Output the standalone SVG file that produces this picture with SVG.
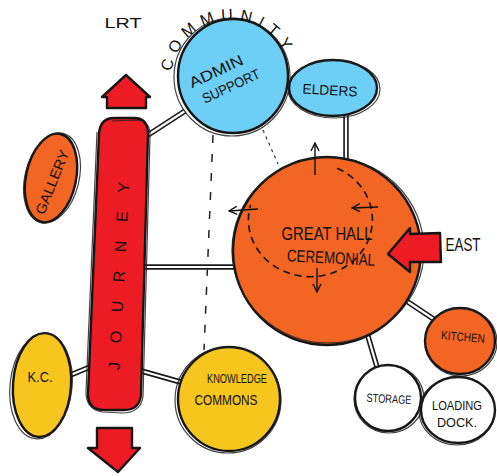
<svg xmlns="http://www.w3.org/2000/svg" width="497" height="476" viewBox="0 0 497 476">
<defs>
<style>
.t{font-family:"Liberation Sans",Arial,sans-serif;fill:#111;dominant-baseline:central;text-anchor:middle}
.ol{stroke:#151515;stroke-width:2.4}
.ol2{fill:none;stroke:#222;stroke-width:1.2;opacity:.85}
.dbo{stroke:#1a1a1a;stroke-width:5.5;fill:none}
.dbi{stroke:#fff;stroke-width:2.2;fill:none}
.red{fill:#ED1C24}
.org{fill:#F26522}
.blu{fill:#6DCFF6}
.yel{fill:#F7C61E}
.wht{fill:#fff}
.thin{stroke:#111;stroke-width:1.4;fill:none}
</style>
<marker id="ah" viewBox="0 0 10 10" refX="9" refY="5" markerWidth="10" markerHeight="10" markerUnits="userSpaceOnUse" orient="auto">
<path d="M1,1 L9,5 L1,9" fill="none" stroke="#111" stroke-width="1.4"/>
</marker>
<path id="arc" d="M 171.6 71.6 A 60 60 0 0 1 285.4 54.6"/>
</defs>
<rect width="497" height="476" fill="#fff"/>

<g id="connectors">
<line class="dbo" x1="148" y1="135" x2="185" y2="111"/><line class="dbi" x1="148" y1="135" x2="185" y2="111"/>
<line class="dbo" x1="145" y1="267" x2="238" y2="267"/><line class="dbi" x1="145" y1="267" x2="238" y2="267"/>
<line class="dbo" x1="346" y1="113" x2="346" y2="162"/><line class="dbi" x1="346" y1="113" x2="346" y2="162"/>
<line class="dbo" x1="90" y1="367" x2="68" y2="376"/><line class="dbi" x1="90" y1="367" x2="68" y2="376"/>
<line class="dbo" x1="138" y1="370" x2="184" y2="383"/><line class="dbi" x1="138" y1="370" x2="184" y2="383"/>
<line class="dbo" x1="405" y1="300" x2="435" y2="320"/><line class="dbi" x1="405" y1="300" x2="435" y2="320"/>
<line class="dbo" x1="367" y1="333" x2="377" y2="367"/><line class="dbi" x1="367" y1="333" x2="377" y2="367"/>
<path d="M213 135 L204 350" stroke="#222" stroke-width="1.5" stroke-dasharray="8 11" fill="none"/>
<path d="M263 130 L278 164" stroke="#333" stroke-width="1.2" stroke-dasharray="3 4" fill="none"/>
</g>

<g id="lrt">
<text class="t" x="123" y="23" font-size="14" textLength="37" lengthAdjust="spacingAndGlyphs">LRT</text>
</g>

<g id="journey">
<polygon class="red ol" points="126,75 150,97 146,97 146,108 107,108 107,97 102,97" stroke-linejoin="round"/>
<path class="red ol" d="M114,118 L134,118 Q148,118 148,134 L141,394 Q140,410 124,410 L104,410 Q88,410 88,394 L99,134 Q100,118 114,118 Z"/>
<path class="ol2" d="M112,121 L136,120 Q151,121 150,136 L143,396 Q141,413 122,413 L102,412 Q86,409 86,392 L97,132"/>
<text class="t" x="119" y="276" font-size="16" textLength="188" lengthAdjust="spacing" transform="rotate(-87 119 276)">JOURNEY</text>
<polygon class="red ol" points="97,428 132,428 132,448 140,448 118,472 88,448 97,448" stroke-linejoin="round"/>
</g>

<g id="gallery">
<ellipse class="org ol" cx="51" cy="178" rx="25" ry="45" transform="rotate(12 51 178)"/>
<ellipse class="ol2" cx="52" cy="178" rx="27" ry="46" transform="rotate(14 52 178)"/>
<text class="t" x="52" y="182" font-size="14" textLength="68" lengthAdjust="spacingAndGlyphs" transform="rotate(-68 52 182)">GALLERY</text>
</g>

<g id="admin-support">
<ellipse class="blu ol" cx="233" cy="76" rx="55" ry="57"/>
<ellipse class="ol2" cx="232" cy="77" rx="58" ry="59" stroke-width="1.6"/>
<text class="t" x="216" y="71" font-size="15" textLength="58" lengthAdjust="spacingAndGlyphs" transform="rotate(-25 216 71)">ADMIN</text>
<text class="t" x="231" y="86" font-size="14" textLength="62" lengthAdjust="spacingAndGlyphs" transform="rotate(-25 231 86)">SUPPORT</text>
<text font-family="Liberation Sans,Arial,sans-serif" font-size="16" fill="#111"><textPath href="#arc" textLength="150" lengthAdjust="spacing">COMMUNITY</textPath></text>
</g>

<g id="elders">
<ellipse class="blu ol" cx="333" cy="88" rx="44" ry="28"/>
<ellipse class="ol2" cx="334" cy="89" rx="46" ry="29"/>
<text class="t" x="330" y="90" font-size="14" textLength="55" lengthAdjust="spacingAndGlyphs" transform="rotate(3 330 90)">ELDERS</text>
</g>

<g id="great-hall">
<ellipse class="org ol" cx="327" cy="251" rx="94" ry="94"/>
<ellipse class="ol2" cx="328" cy="250" rx="96" ry="93" stroke-width="1.5"/>
<path d="M 337.2 168.3 A 62 57 0 1 1 250.5 205" stroke="#111" stroke-width="1.6" stroke-dasharray="7 5" fill="none"/>
<line class="thin" x1="315" y1="175" x2="315" y2="143" marker-end="url(#ah)"/>
<line class="thin" x1="258" y1="209" x2="229" y2="211" marker-end="url(#ah)"/>
<line class="thin" x1="378" y1="207" x2="352" y2="208" marker-end="url(#ah)"/>
<line class="thin" x1="317" y1="268" x2="317" y2="292" marker-end="url(#ah)"/>
<text class="t" x="327" y="234" font-size="18" textLength="91" lengthAdjust="spacingAndGlyphs">GREAT HALL</text>
<text class="t" x="331" y="258" font-size="17" textLength="88" lengthAdjust="spacingAndGlyphs" transform="rotate(3 331 258)">CEREMONIAL</text>
</g>

<g id="east">
<polygon class="red ol" points="388,254 410,228 410,234 440,233 441,262 410,262 410,272" stroke-linejoin="round"/>
<text class="t" x="463" y="245" font-size="18" textLength="35" lengthAdjust="spacingAndGlyphs">EAST</text>
</g>

<g id="kitchen">
<ellipse class="org ol" cx="460" cy="341" rx="35" ry="33"/>
<ellipse class="ol2" cx="461" cy="342" rx="36" ry="34"/>
<text class="t" x="463" y="337" font-size="12" textLength="44" lengthAdjust="spacingAndGlyphs" transform="rotate(5 463 337)">KITCHEN</text>
</g>

<g id="storage">
<ellipse class="wht ol" cx="388" cy="398" rx="33" ry="33"/>
<ellipse class="ol2" cx="389" cy="399" rx="35" ry="34"/>
<text class="t" x="389" y="399" font-size="12" textLength="45" lengthAdjust="spacingAndGlyphs" transform="rotate(3 389 399)">STORAGE</text>
</g>

<g id="loading-dock">
<ellipse class="wht ol" cx="458" cy="410" rx="37" ry="33"/>
<ellipse class="ol2" cx="457" cy="411" rx="38" ry="34"/>
<text class="t" x="457" y="406" font-size="12" textLength="50" lengthAdjust="spacingAndGlyphs">LOADING</text>
<text class="t" x="457" y="423" font-size="12" textLength="40" lengthAdjust="spacingAndGlyphs">DOCK.</text>
</g>

<g id="kc">
<ellipse class="yel ol" cx="42" cy="385" rx="29" ry="52" transform="rotate(4 42 385)"/>
<ellipse class="ol2" cx="41" cy="386" rx="31" ry="53" transform="rotate(6 41 386)"/>
<text class="t" x="40" y="377" font-size="14" textLength="25" lengthAdjust="spacingAndGlyphs">K.C.</text>
</g>

<g id="knowledge-commons">
<ellipse class="yel ol" cx="229" cy="399" rx="51" ry="52"/>
<ellipse class="ol2" cx="228" cy="400" rx="53" ry="53" stroke-width="1.5"/>
<text class="t" x="237" y="378" font-size="13" textLength="60" lengthAdjust="spacingAndGlyphs">KNOWLEDGE</text>
<text class="t" x="226" y="400" font-size="14" textLength="63" lengthAdjust="spacingAndGlyphs">COMMONS</text>
</g>
</svg>
